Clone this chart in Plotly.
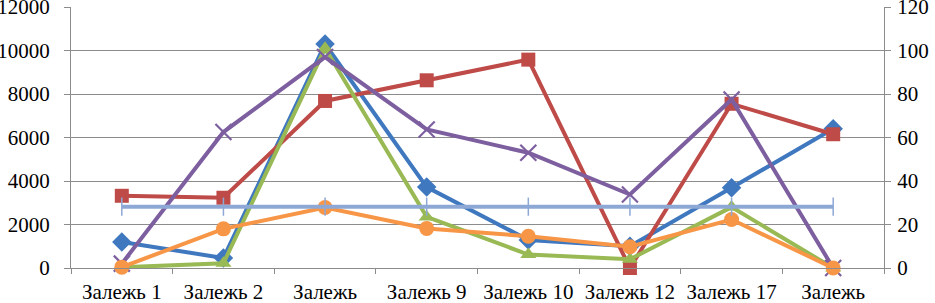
import plotly.graph_objects as go

cat_ids = ["c1", "c2", "c3", "c4", "c5", "c6", "c7", "c8"]
tick_labels = ["Залежь 1", "Залежь 2", "Залежь", "Залежь 9", "Залежь 10", "Залежь 12", "Залежь 17", "Залежь"]

s_blue = [1200, 460, 10300, 3720, 1290, 1000, 3690, 6400]
s_red = [3320, 3230, 7680, 8630, 9580, 0, 7550, 6150]
s_green = [30, 220, 10100, 2350, 620, 400, 2800, 0]
s_purple = [200, 6250, 9700, 6370, 5300, 3380, 7750, 0]
s_lightblue = [28.2, 28.2, 28.2, 28.2, 28.2, 28.2, 28.2, 28.2]  # right axis
s_orange = [40, 1800, 2780, 1820, 1460, 980, 2230, 0]

C_BLUE = "#3F78BF"
C_RED = "#BE4B48"
C_GREEN = "#98B954"
C_PURPLE = "#7D5FA0"
C_LB = "#8EA8D6"
C_ORANGE = "#F79646"

fig = go.Figure()

def add(y, color, symbol, size, yaxis="y", open_=False, mlw=0):
    marker = dict(symbol=symbol, size=size, color=color)
    if open_:
        marker["line"] = dict(color=color, width=mlw)
    fig.add_trace(go.Scatter(x=cat_ids, y=y, mode="lines+markers",
                             line=dict(color=color, width=4),
                             marker=marker, yaxis=yaxis, showlegend=False,
                             cliponaxis=False, hoverinfo="skip"))

add(s_blue, C_BLUE, "diamond", 15)
add(s_red, C_RED, "square", 14)
add(s_green, C_GREEN, "triangle-up", 14)
add(s_purple, C_PURPLE, "x-thin-open", 16, open_=True, mlw=2.2)
add(s_lightblue, C_LB, "line-ns-open", 13, yaxis="y2", open_=True, mlw=1.5)
add(s_orange, C_ORANGE, "circle", 15)

GRID = "#8C8C8C"
font = dict(family="Liberation Serif", size=21, color="black")

fig.update_layout(
    width=935, height=303,
    margin=dict(l=71, r=51, t=7, b=35),
    paper_bgcolor="white", plot_bgcolor="white",
    font=font,
    xaxis=dict(type="category", categoryorder="array", categoryarray=cat_ids,
               tickmode="array", tickvals=cat_ids, ticktext=tick_labels,
               tickson="boundaries", ticks="outside", ticklen=5, tickcolor=GRID,
               showline=True, linecolor=GRID, linewidth=1, showgrid=False,
               range=[-0.5, 7.5], tickfont=font, ticklabeloverflow="allow",
               automargin=False, ticklabelstandoff=5),
    yaxis=dict(range=[0, 12000.01], tickmode="array",
               tickvals=[0, 2000, 4000, 6000, 8000, 10000, 12000],
               ticktext=["0", "2000", "4000", "6000", "8000", "10000", "12000"],
               showgrid=True, gridcolor=GRID, gridwidth=1,
               showline=True, linecolor=GRID, ticks="outside", ticklen=6,
               tickcolor=GRID, zeroline=False, tickfont=font,
               ticklabeloverflow="allow", automargin=False, ticklabelstandoff=10),
    yaxis2=dict(range=[0, 120.0001], tickmode="array",
                tickvals=[0, 20, 40, 60, 80, 100, 120],
                ticktext=["0", "20", "40", "60", "80", "100", "120"],
                overlaying="y", side="right", showgrid=False,
                showline=True, linecolor=GRID, ticks="outside", ticklen=6,
                tickcolor=GRID, zeroline=False, tickfont=font,
                ticklabeloverflow="allow", automargin=False, ticklabelstandoff=2),
)

fig.write_html("out.html", config={"displayModeBar": False},
               post_script="document.body.style.margin='0';document.body.style.overflow='hidden';")
